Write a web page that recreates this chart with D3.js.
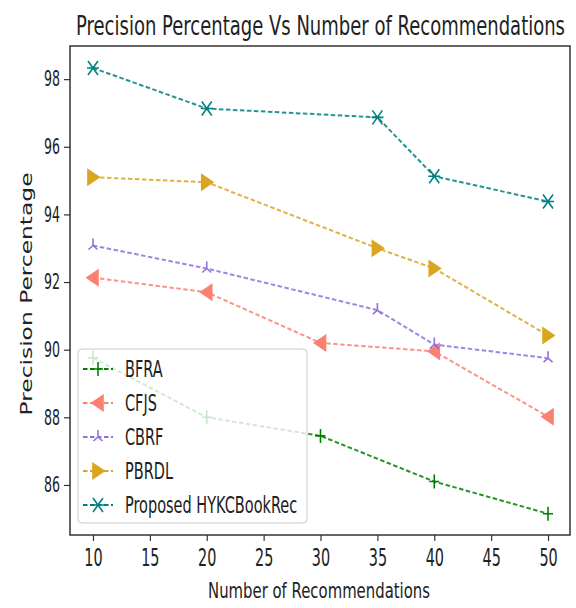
<!DOCTYPE html>
<html>
<head>
<meta charset="utf-8">
<script src="https://cdn.jsdelivr.net/npm/d3@7"></script>
<style>
  body { margin: 0; background: #fff; }
  text { font-family: "DejaVu Sans", sans-serif; fill: #222; }
</style>
</head>
<body>
<div id="chart"></div>
<script>
// values
var seriesNames = ["BFRA", "CFJS", "CBRF", "PBRDL", "Proposed HYKCBookRec"];
var seriesColors = ["#008000", "#FA8072", "#9370DB", "#DAA520", "#008080"];
var seriesMarkers = ["plus", "left", "tri", "right", "star"];

var bfraX = [10, 20, 30, 40, 50];
var bfraY = [89.76, 88.0, 87.45, 86.1, 85.15];
var cfjsX = [10, 20, 30, 40, 50];
var cfjsY = [92.13, 91.7, 90.2, 89.95, 88.02];
var cbrfX = [10, 20, 35, 40, 50];
var cbrfY = [93.08, 92.4, 91.17, 90.15, 89.75];
var pbrdlX = [10, 20, 35, 40, 50];
var pbrdlY = [95.1, 94.95, 93.0, 92.4, 90.42];
var propX = [10, 20, 35, 40, 50];
var propY = [98.33, 97.13, 96.87, 95.13, 94.38];

var allX = [bfraX, cfjsX, cbrfX, pbrdlX, propX];
var allY = [bfraY, cfjsY, cbrfY, pbrdlY, propY];

var titleText = "Precision Percentage Vs Number of Recommendations";
var xLabel = "Number of Recommendations";
var yLabel = "Precision Percentage";

var W = 576, H = 608;
var plotLeft = 70, plotRight = 570, plotTop = 46, plotBottom = 535;
var SQ = 0.6; // the picture is squeezed sideways

var svg = d3.select("#chart").append("svg")
    .attr("width", W)
    .attr("height", H);

var x = d3.scaleLinear().domain([7.98, 51.93]).range([plotLeft, plotRight]);
var y = d3.scaleLinear().domain([84.52, 98.98]).range([plotBottom, plotTop]);

// axes
var yAxis = svg.append("g")
    .attr("transform", "translate(" + plotLeft + ",0)")
    .call(d3.axisLeft(y).ticks(7).tickSize(6).tickPadding(4));
var xAxis = svg.append("g")
    .attr("transform", "translate(0," + plotBottom + ")")
    .call(d3.axisBottom(x).ticks(9).tickSize(6).tickPadding(8));

[yAxis, xAxis].forEach(function (ax) {
    ax.select(".domain").remove();
    ax.selectAll(".tick line").attr("stroke", "#333").attr("stroke-width", 1.2);
});
yAxis.selectAll(".tick text")
    .attr("font-size", 21)
    .attr("fill", "#333")
    .attr("x", -10 / SQ)
    .attr("transform", "scale(" + SQ + ",1)");
xAxis.selectAll(".tick text")
    .attr("font-size", 24)
    .attr("fill", "#333")
    .attr("transform", "scale(" + SQ + ",1)");

// frame
svg.append("rect")
    .attr("x", plotLeft).attr("y", plotTop)
    .attr("width", plotRight - plotLeft).attr("height", plotBottom - plotTop)
    .attr("fill", "none")
    .attr("stroke", "#333")
    .attr("stroke-width", 1.5);

// marker shapes
function markerPath(kind) {
    if (kind == "plus") return "M0,-7L0,7M-5,0L5,0";
    if (kind == "left") return "M-6,0L5,-7.5L5,7.5Z";
    if (kind == "right") return "M6,0L-5,-7.5L-5,7.5Z";
    if (kind == "tri") return "M0,0L0,-7M0,0L-4.5,4M0,0L4.5,4";
    return "M-5,-7L5,7M-5,7L5,-7M-6,0L6,0"; // star
}
function isFilled(kind) {
    return kind == "left" || kind == "right";
}

var line = d3.line()
    .x(function (d) { return x(d[0]); })
    .y(function (d) { return y(d[1]); });

for (var s = 0; s < seriesNames.length; s++) {
    var pts = allX[s].map(function (v, i) { return [v, allY[s][i]]; });
    var g = svg.append("g").attr("class", "series");
    g.append("path")
        .datum(pts)
        .attr("d", line)
        .attr("fill", "none")
        .attr("stroke", seriesColors[s])
        .attr("stroke-width", 2)
        .attr("stroke-dasharray", "4.5,2.5")
        .attr("opacity", 0.85);
    g.selectAll(".mk")
        .data(pts)
        .enter().append("path")
        .attr("class", "mk")
        .attr("transform", function (d) { return "translate(" + x(d[0]) + "," + y(d[1]) + ")"; })
        .attr("d", markerPath(seriesMarkers[s]))
        .attr("fill", isFilled(seriesMarkers[s]) ? seriesColors[s] : "none")
        .attr("stroke", seriesColors[s])
        .attr("stroke-width", 1.6);
}

// legend
var legend = svg.append("g");
legend.append("rect")
    .attr("x", 78).attr("y", 349)
    .attr("width", 229).attr("height", 174)
    .attr("rx", 4)
    .attr("fill", "#fff")
    .attr("fill-opacity", 0.8)
    .attr("stroke", "#ccc")
    .attr("stroke-width", 1);

seriesNames.forEach(function (name, i) {
    var ly = 369 + i * 34;
    legend.append("line")
        .attr("x1", 83).attr("x2", 113)
        .attr("y1", ly).attr("y2", ly)
        .attr("stroke", seriesColors[i])
        .attr("stroke-width", 2)
        .attr("stroke-dasharray", "4.5,2.5");
    legend.append("path")
        .attr("transform", "translate(98," + ly + ")")
        .attr("d", markerPath(seriesMarkers[i]))
        .attr("fill", isFilled(seriesMarkers[i]) ? seriesColors[i] : "none")
        .attr("stroke", seriesColors[i])
        .attr("stroke-width", 1.6);
    legend.append("text")
        .attr("transform", "translate(125," + (ly + 8) + ") scale(0.63,1)")
        .attr("font-size", 23)
        .text(name);
});

// title and axis labels
svg.append("text")
    .attr("x", 76).attr("y", 35)
    .attr("font-size", 26)
    .attr("textLength", 489)
    .attr("lengthAdjust", "spacingAndGlyphs")
    .text(titleText);

svg.append("text")
    .attr("x", 208).attr("y", 598)
    .attr("font-size", 21)
    .attr("textLength", 222)
    .attr("lengthAdjust", "spacingAndGlyphs")
    .attr("fill", "#333")
    .text(xLabel);

svg.append("text")
    .attr("transform", "translate(32,294) scale(0.83,1) rotate(-90)")
    .attr("text-anchor", "middle")
    .attr("font-size", 20)
    .attr("textLength", 243)
    .attr("lengthAdjust", "spacingAndGlyphs")
    .attr("fill", "#333")
    .text(yLabel);
</script>
</body>
</html>
